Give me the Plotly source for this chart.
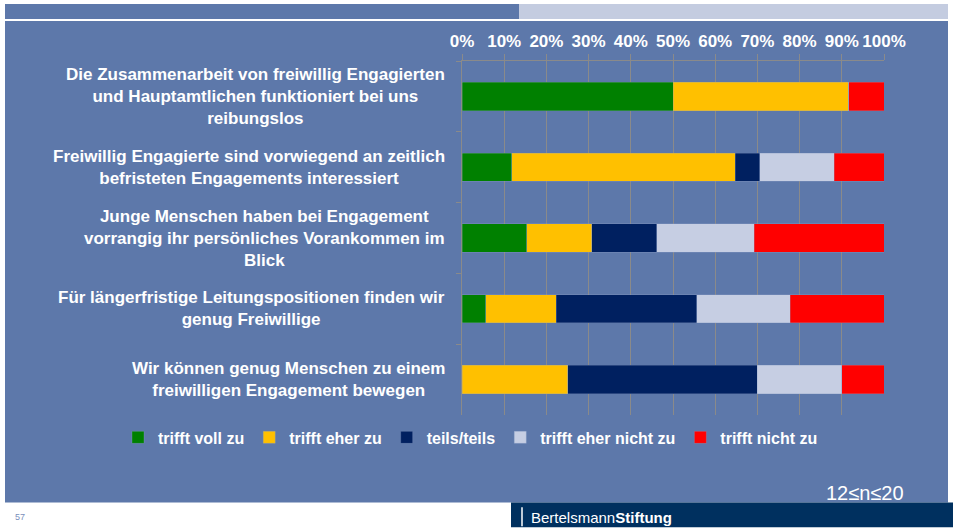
import plotly.graph_objects as go

categories = [
    "Die Zusammenarbeit von freiwillig Engagierten<br>und Hauptamtlichen funktioniert bei uns<br>reibungslos",
    "Freiwillig Engagierte sind vorwiegend an zeitlich<br>befristeten Engagements interessiert",
    "Junge Menschen haben bei Engagement<br>vorrangig ihr persönliches Vorankommen im<br>Blick",
    "Für längerfristige Leitungspositionen finden wir<br>genug Freiwillige",
    "Wir können genug Menschen zu einem<br>freiwilligen Engagement bewegen",
]
series_names = ["trifft voll zu", "trifft eher zu", "teils/teils", "trifft eher nicht zu", "trifft nicht zu"]
voll = [50.0, 11.8, 15.4, 5.6, 0.0]
eher = [41.7, 52.9, 15.4, 16.7, 25.0]
teils = [0.0, 5.9, 15.4, 33.3, 45.0]
eher_nicht = [0.0, 17.6, 23.1, 22.2, 20.0]
nicht = [8.3, 11.8, 30.8, 22.2, 10.0]
tick_vals = [0, 10, 20, 30, 40, 50, 60, 70, 80, 90, 100]
tick_text = [f"{v}%" for v in tick_vals]

colors = ["#008000", "#ffc000", "#002060", "#c6cee3", "#ff0000"]
values = [voll, eher, teils, eher_nicht, nicht]

W, H = 953, 528
L, R, T, B = 462, 884, 61, 415.5
BG = "#5d78aa"
FONT = "Liberation Sans, Arial, sans-serif"

def px(x):
    return (x - L) / (R - L)

def py(y):
    return (B - y) / (B - T)

fig = go.Figure()
for name, vals, col in zip(series_names, values, colors):
    fig.add_trace(go.Bar(
        y=categories, x=vals, name=name, orientation="h",
        marker=dict(color=col, line=dict(color="rgba(140,160,200,0.6)", width=0.5)),
        hoverinfo="x+name",
    ))

shapes = [
    dict(type="rect", xref="paper", yref="paper", x0=px(5), x1=px(948), y0=py(503), y1=py(21),
         fillcolor=BG, line=dict(width=0), layer="below"),
    dict(type="rect", xref="paper", yref="paper", x0=px(5), x1=px(519), y0=py(19), y1=py(4),
         fillcolor=BG, line=dict(width=0), layer="below"),
    dict(type="rect", xref="paper", yref="paper", x0=px(519), x1=px(948), y0=py(19), y1=py(4),
         fillcolor="#c4cce0", line=dict(width=0), layer="below"),
    dict(type="rect", xref="paper", yref="paper", x0=px(511), x1=px(953), y0=py(528), y1=py(503),
         fillcolor="#00305f", line=dict(width=0), layer="below"),
    dict(type="line", xref="paper", yref="paper", x0=px(522), x1=px(522), y0=py(527), y1=py(508),
         line=dict(color="white", width=1.5)),
]

annotations = []
for cat in categories:
    annotations.append(dict(
        x=0, xref="paper", y=cat, yref="y", xanchor="right", xshift=-15,
        text=cat, showarrow=False, align="center",
        font=dict(family=FONT, size=17, color="white", weight="bold"),
    ))
annotations += [
    dict(x=px(906), y=py(494), xref="paper", yref="paper", xanchor="right", yanchor="middle",
         text="12≤n≤20", showarrow=False, font=dict(family=FONT, size=20, color="white")),
    dict(x=px(529), y=py(518), xref="paper", yref="paper", xanchor="left", yanchor="middle",
         text="Bertelsmann<b>Stiftung</b>", showarrow=False, font=dict(family=FONT, size=15, color="white")),
    dict(x=px(13), y=py(518), xref="paper", yref="paper", xanchor="left", yanchor="middle",
         text="57", showarrow=False, font=dict(family=FONT, size=9, color="#7a8fbb")),
]

fig.update_layout(
    width=W, height=H,
    margin=dict(l=L, r=W - R, t=T, b=H - B, pad=0, autoexpand=False),
    paper_bgcolor="white", plot_bgcolor="rgba(0,0,0,0)",
    barmode="stack", bargap=0.6,
    font=dict(family=FONT, color="white"),
    shapes=shapes, annotations=annotations,
    showlegend=True,
    legend=dict(orientation="h", xref="paper", yref="paper",
                x=px(118), xanchor="left", y=py(438), yanchor="middle",
                font=dict(family=FONT, size=16, color="white", weight="bold"),
                bgcolor="rgba(0,0,0,0)", itemwidth=30, traceorder="normal"),
    xaxis=dict(side="top", range=[0, 100], tickvals=tick_vals, ticktext=tick_text,
               tickfont=dict(family=FONT, size=17, color="white", weight="bold"),
               showgrid=True, gridcolor="#8a8a8a", gridwidth=1,
               showline=True, linecolor="#8a8a8a", ticks="outside", ticklen=6, tickcolor="#8a8a8a",
               zeroline=False, fixedrange=True),
    yaxis=dict(autorange="reversed", showticklabels=False, showline=True, linecolor="#8a8a8a",
               ticks="outside", tickson="boundaries", ticklen=5, tickcolor="#8a8a8a",
               showgrid=False, fixedrange=True),
)

fig.write_html("out.html", config={"displayModeBar": False},
               post_script="document.body.style.margin='0';")
